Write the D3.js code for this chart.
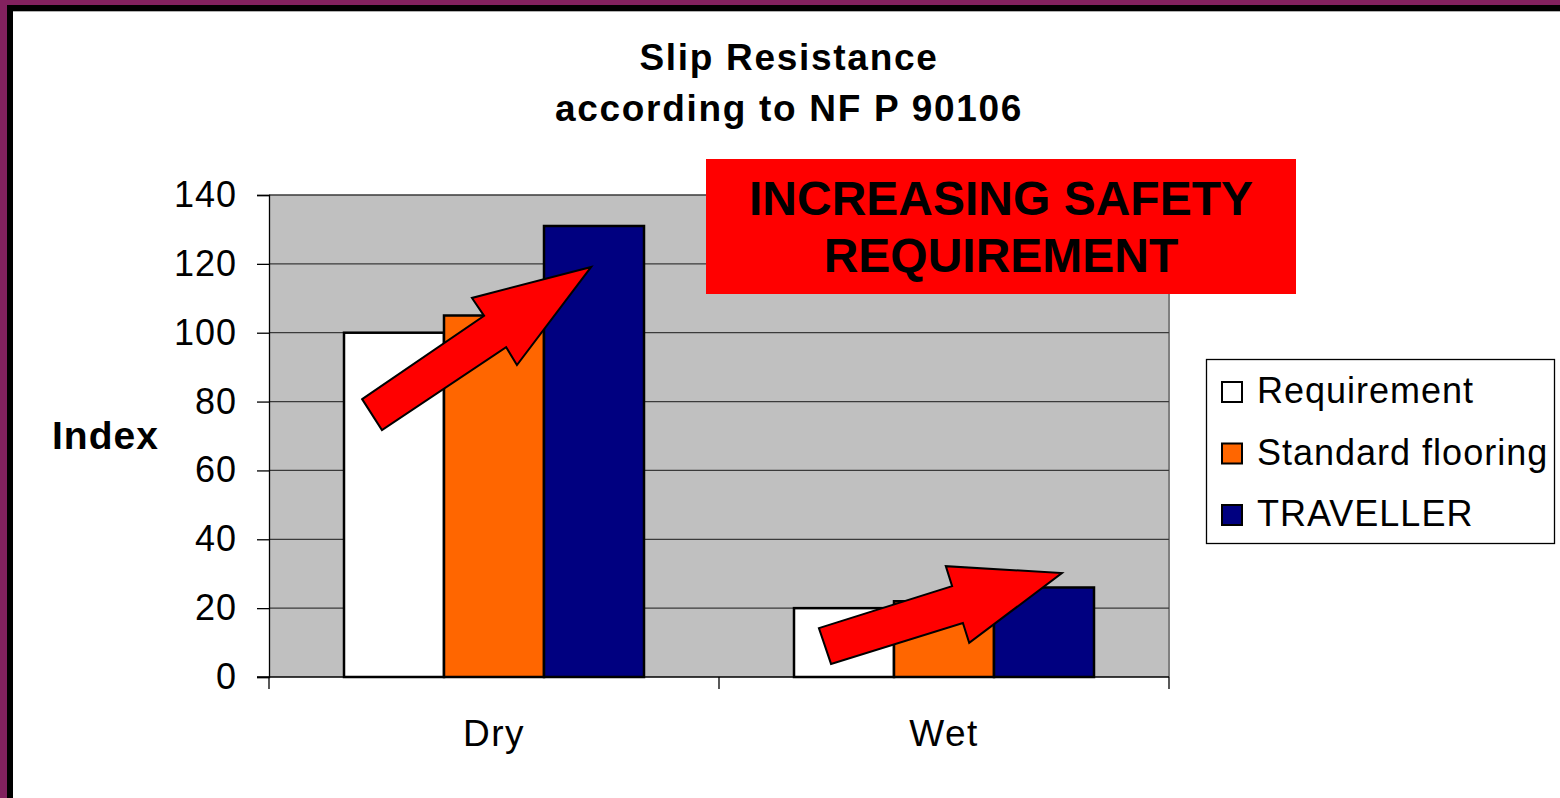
<!DOCTYPE html>
<html>
<head>
<meta charset="utf-8">
<script src="https://cdn.jsdelivr.net/npm/d3@7"></script>
<style>
  html, body { margin: 0; padding: 0; background: #fff; }
  svg { display: block; font-family: Arial, "Liberation Sans", sans-serif; }
</style>
</head>
<body>
<svg id="chart"></svg>
<script>
// chart values
var categories = ['Dry', 'Wet'];
var seriesNames = ['Requirement', 'Standard flooring', 'TRAVELLER'];
var requirement = [100, 20];
var standardFlooring = [105, 22];
var traveller = [131, 26];
var yTicks = [0, 20, 40, 60, 80, 100, 120, 140];
var titleLines = ['Slip Resistance', 'according to NF P 90106'];
var noteLines = ['INCREASING SAFETY', 'REQUIREMENT'];

// arrows: [fraction across category band, index value]
var arrowDry = [[0.207, 80.7], [0.478, 104.9], [0.451, 110.1], [0.716, 119.1], [0.551, 90.6], [0.527, 95.8], [0.251, 71.7]];
var arrowWet = [[0.222, 14.2], [0.518, 26.4], [0.504, 32.2], [0.762, 30.2], [0.556, 9.9], [0.542, 15.7], [0.249, 3.8]];

var seriesValues = [requirement, standardFlooring, traveller];
var colors = ['#ffffff', '#ff6600', '#000080'];

var unit = {width: 1560, height: 798};
var plot = {left: 269, right: 1169, top: 195, bottom: 677};

var svg = d3.select('#chart')
            .attr('width', unit.width)
            .attr('height', unit.height);

// frame (purple + black on top and left)
svg.append('rect').attr('x', 0).attr('y', 0).attr('width', unit.width).attr('height', 5).attr('fill', '#82215e');
svg.append('rect').attr('x', 0).attr('y', 0).attr('width', 7).attr('height', unit.height).attr('fill', '#82215e');
svg.append('rect').attr('x', 7).attr('y', 5).attr('width', unit.width - 7).attr('height', 6).attr('fill', '#000');
svg.append('rect').attr('x', 7).attr('y', 5).attr('width', 6).attr('height', unit.height - 5).attr('fill', '#000');
svg.append('rect').attr('x', 13).attr('y', 11).attr('width', unit.width - 13).attr('height', 1).attr('fill', '#b0b0b0');

// title
svg.append('g').selectAll('text')
    .data(titleLines)
    .enter()
    .append('text')
    .attr('x', 789)
    .attr('y', (d, i) => 70 + i * 51)
    .attr('text-anchor', 'middle')
    .attr('font-size', 37)
    .attr('font-weight', 'bold')
    .attr('letter-spacing', 1.7)
    .text((d) => d);

var x0 = d3.scaleBand().domain(categories).range([plot.left, plot.right]).padding(0);
var x1 = d3.scaleBand().domain(seriesNames).range([0, x0.bandwidth()]).paddingInner(0).paddingOuter(0.75);
var y = d3.scaleLinear().domain([0, 140]).range([plot.bottom, plot.top]);

// plot area
svg.append('rect')
    .attr('x', plot.left)
    .attr('y', plot.top)
    .attr('width', plot.right - plot.left)
    .attr('height', plot.bottom - plot.top)
    .attr('fill', '#c0c0c0');
svg.append('line')
    .attr('x1', plot.right).attr('x2', plot.right)
    .attr('y1', plot.top).attr('y2', plot.bottom)
    .attr('stroke', '#808080').attr('stroke-width', 2);

// gridlines
svg.append('g').selectAll('line')
    .data(yTicks.filter((d) => d > 0))
    .enter()
    .append('line')
    .attr('x1', plot.left).attr('x2', plot.right)
    .attr('y1', (d) => y(d)).attr('y2', (d) => y(d))
    .attr('stroke', '#3a3a3a').attr('stroke-width', 1.3);

// bars
var gBars = svg.append('g');
categories.forEach(function(cat, ci){
    gBars.append('g')
        .attr('transform', 'translate(' + x0(cat) + ',0)')
        .selectAll('rect')
        .data(seriesNames.map((s, si) => ({name: s, value: seriesValues[si][ci], color: colors[si]})))
        .enter()
        .append('rect')
        .attr('x', (d) => x1(d.name))
        .attr('y', (d) => y(d.value))
        .attr('width', x1.bandwidth())
        .attr('height', (d) => y(0) - y(d.value))
        .attr('fill', (d) => d.color)
        .attr('stroke', '#000')
        .attr('stroke-width', 2.5);
});

// y axis
var yAxis = d3.axisLeft(y).tickValues(yTicks).tickSize(12).tickPadding(20);
var gy = svg.append('g')
    .attr('transform', 'translate(' + plot.left + ',0)')
    .call(yAxis);
gy.select('.domain').attr('stroke', '#000').attr('stroke-width', 1.3);
gy.selectAll('.tick line').attr('stroke', '#000').attr('stroke-width', 1.3);
gy.selectAll('.tick text')
    .attr('font-size', 36)
    .attr('letter-spacing', 1)
    .attr('font-family', 'Arial, "Liberation Sans", sans-serif')
    .attr('fill', '#000');

// x axis
var xAxis = d3.axisBottom(x0).tickSize(0).tickPadding(43);
var gx = svg.append('g')
    .attr('transform', 'translate(0,' + plot.bottom + ')')
    .call(xAxis);
gx.select('.domain').remove();
gx.selectAll('.tick text')
    .attr('font-size', 37)
    .attr('letter-spacing', 1.5)
    .attr('font-family', 'Arial, "Liberation Sans", sans-serif')
    .attr('fill', '#000');
svg.append('line')
    .attr('x1', plot.left - 12).attr('x2', plot.right)
    .attr('y1', plot.bottom).attr('y2', plot.bottom)
    .attr('stroke', '#000').attr('stroke-width', 1.3);
svg.append('g').selectAll('line')
    .data(categories.map((c) => x0(c)).concat([plot.right]))
    .enter()
    .append('line')
    .attr('x1', (d) => d).attr('x2', (d) => d)
    .attr('y1', plot.bottom).attr('y2', plot.bottom + 12)
    .attr('stroke', '#000').attr('stroke-width', 1.3);

// axis title
svg.append('text')
    .attr('x', 52)
    .attr('y', 449)
    .attr('font-size', 39)
    .attr('font-weight', 'bold')
    .attr('letter-spacing', 1)
    .text('Index');

// arrows
function arrowPoints(cat, pts){
    return pts.map((p) => [x0(cat) + p[0] * x0.bandwidth(), y(p[1])].join(',')).join(' ');
}
svg.append('g').selectAll('polygon')
    .data([{cat: 'Dry', pts: arrowDry}, {cat: 'Wet', pts: arrowWet}])
    .enter()
    .append('polygon')
    .attr('points', (d) => arrowPoints(d.cat, d.pts))
    .attr('fill', '#ff0000')
    .attr('stroke', '#000')
    .attr('stroke-width', 2)
    .attr('stroke-linejoin', 'miter');

// note box
svg.append('rect')
    .attr('x', 706).attr('y', 159)
    .attr('width', 590).attr('height', 135)
    .attr('fill', '#ff0000');
svg.append('g').selectAll('text')
    .data(noteLines)
    .enter()
    .append('text')
    .attr('x', 1001)
    .attr('y', (d, i) => 215 + i * 57)
    .attr('text-anchor', 'middle')
    .attr('font-size', 48)
    .attr('font-weight', 'bold')
    .text((d) => d);

// legend
var gLegend = svg.append('g');
gLegend.append('rect')
    .attr('x', 1206.5).attr('y', 359.5)
    .attr('width', 348).attr('height', 184)
    .attr('fill', '#fff')
    .attr('stroke', '#000')
    .attr('stroke-width', 1.3);
var item = gLegend.selectAll('.item')
    .data(seriesNames)
    .enter()
    .append('g')
    .classed('item', true)
    .attr('transform', (d, i) => 'translate(0,' + (i * 61.5) + ')');
item.append('rect')
    .attr('x', 1222).attr('y', 382)
    .attr('width', 20).attr('height', 20)
    .attr('fill', (d, i) => colors[i])
    .attr('stroke', '#000')
    .attr('stroke-width', 2);
item.append('text')
    .attr('x', 1257)
    .attr('y', 403)
    .attr('font-size', 36)
    .attr('letter-spacing', 1)
    .text((d) => d);
</script>
</body>
</html>
